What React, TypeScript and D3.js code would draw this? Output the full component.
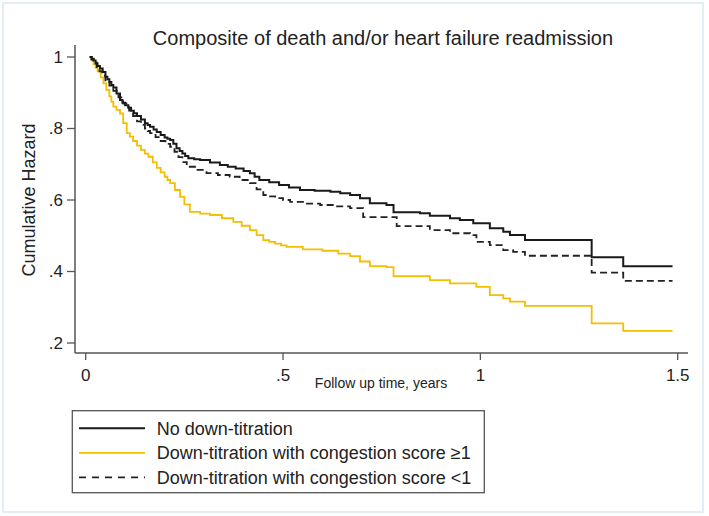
import React from "react";
import * as d3 from "d3";

const title = "Composite of death and/or heart failure readmission";
const yLabel = "Cumulative Hazard";
const xLabel = "Follow up time, years";
const xTicks = [0, 0.5, 1, 1.5];
const xTickLabels = ["0", ".5", "1", "1.5"];
const yTicks = [0.2, 0.4, 0.6, 0.8, 1];
const yTickLabels = [".2", ".4", ".6", ".8", "1"];
const seriesNames = [
  "No down-titration",
  "Down-titration with congestion score \u22651",
  "Down-titration with congestion score <1",
];
const endTime = 1.487;

const noDownT = [0.01,0.015,0.02,0.025,0.03,0.036,0.043,0.05,0.055,0.06,0.065,0.07,0.078,0.087,0.093,0.1,0.108,0.115,0.122,0.13,0.14,0.15,0.157,0.163,0.172,0.18,0.19,0.2,0.207,0.214,0.222,0.23,0.238,0.245,0.252,0.26,0.275,0.29,0.315,0.34,0.36,0.38,0.4,0.416,0.428,0.44,0.465,0.49,0.515,0.543,0.58,0.62,0.645,0.67,0.695,0.72,0.762,0.78,0.847,0.872,0.923,0.948,0.982,1.024,1.058,1.075,1.113,1.282,1.362];
const noDownV = [1.0,0.995,0.99,0.982,0.975,0.968,0.958,0.945,0.938,0.93,0.922,0.915,0.898,0.88,0.872,0.865,0.858,0.85,0.843,0.835,0.825,0.815,0.81,0.805,0.797,0.79,0.782,0.775,0.771,0.768,0.757,0.745,0.737,0.73,0.723,0.717,0.714,0.712,0.705,0.698,0.693,0.688,0.681,0.675,0.665,0.656,0.65,0.642,0.635,0.628,0.626,0.623,0.619,0.614,0.605,0.591,0.586,0.566,0.563,0.556,0.549,0.544,0.535,0.521,0.511,0.502,0.488,0.44,0.415];

const congHighT = [0.01,0.015,0.02,0.025,0.03,0.038,0.045,0.052,0.06,0.065,0.07,0.078,0.087,0.095,0.104,0.112,0.12,0.13,0.14,0.15,0.159,0.17,0.18,0.19,0.2,0.207,0.214,0.226,0.239,0.25,0.264,0.29,0.315,0.345,0.374,0.395,0.416,0.433,0.45,0.465,0.48,0.495,0.509,0.55,0.6,0.64,0.67,0.695,0.72,0.762,0.78,0.872,0.923,0.99,1.024,1.058,1.075,1.113,1.282,1.362];
const congHighV = [1.0,0.99,0.98,0.97,0.96,0.943,0.926,0.908,0.89,0.875,0.861,0.852,0.842,0.815,0.787,0.777,0.765,0.752,0.74,0.73,0.721,0.705,0.69,0.677,0.665,0.656,0.647,0.628,0.609,0.588,0.567,0.562,0.558,0.549,0.539,0.528,0.516,0.502,0.488,0.483,0.478,0.473,0.469,0.462,0.458,0.45,0.443,0.428,0.415,0.412,0.387,0.376,0.367,0.357,0.334,0.325,0.316,0.304,0.255,0.234];

const congLowT = [0.01,0.015,0.02,0.028,0.035,0.042,0.05,0.06,0.07,0.083,0.095,0.103,0.11,0.12,0.13,0.14,0.15,0.157,0.163,0.177,0.19,0.202,0.214,0.225,0.235,0.245,0.256,0.28,0.306,0.335,0.365,0.39,0.416,0.433,0.45,0.465,0.48,0.5,0.518,0.555,0.594,0.63,0.67,0.703,0.788,0.872,0.923,0.974,0.99,1.024,1.058,1.083,1.113,1.282,1.362];
const congLowV = [1.0,0.993,0.985,0.972,0.96,0.948,0.935,0.92,0.905,0.887,0.87,0.86,0.85,0.835,0.82,0.81,0.8,0.793,0.787,0.776,0.765,0.757,0.749,0.735,0.72,0.706,0.693,0.684,0.675,0.67,0.665,0.656,0.647,0.63,0.614,0.61,0.605,0.6,0.595,0.59,0.586,0.582,0.577,0.552,0.527,0.516,0.507,0.502,0.483,0.474,0.46,0.455,0.444,0.397,0.374];

const W = 709;
const H = 516;

export default function App() {
  const x = d3.scaleLinear().domain([0, 1.5]).range([85.7, 677.7]);
  const y = d3.scaleLinear().domain([0.2, 1]).range([343, 57]);

  const toPts = (t: number[], v: number[]) => {
    const pts: [number, number][] = t.map((ti, i) => [ti, v[i]]);
    pts.push([endTime, v[v.length - 1]]);
    return pts;
  };
  const line = d3
    .line<[number, number]>()
    .x((d) => x(d[0]))
    .y((d) => y(d[1]))
    .curve(d3.curveStepAfter);

  const series = [
    { name: seriesNames[0], pts: toPts(noDownT, noDownV), color: "#1a1a1a", width: 2, dash: undefined as string | undefined },
    { name: seriesNames[1], pts: toPts(congHighT, congHighV), color: "#f5be00", width: 1.8, dash: undefined },
    { name: seriesNames[2], pts: toPts(congLowT, congLowV), color: "#222", width: 1.8, dash: "7,4" },
  ];
  const drawOrder = [1, 2, 0];

  const font = "Arial, 'Liberation Sans', Helvetica, sans-serif";
  const axisColor = "#555";

  return (
    <svg
      width={W}
      height={H}
      style={{ position: "absolute", left: 0, top: 0 }}
      fontFamily={font}
    >
      <rect x={0} y={0} width={W} height={H} fill="#fff" />
      <rect x={3} y={3} width={700} height={509} fill="#fff" stroke="#e2eef1" strokeWidth={2} />
      <text x={383} y={38} dy="0.35em" textAnchor="middle" fontSize={20} fill="#222">
        {title}
      </text>
      {/* axes */}
      <line x1={75} x2={75} y1={45} y2={353} stroke={axisColor} strokeWidth={1.5} />
      <line x1={75} x2={688} y1={353} y2={353} stroke={axisColor} strokeWidth={1.5} />
      {yTicks.map((t, i) => (
        <g key={"y" + i}>
          <line x1={67} x2={75} y1={y(t)} y2={y(t)} stroke={axisColor} strokeWidth={1.3} />
          <text x={63} y={y(t)} dy="0.35em" textAnchor="end" fontSize={17} fill="#222">
            {yTickLabels[i]}
          </text>
        </g>
      ))}
      {xTicks.map((t, i) => (
        <g key={"x" + i}>
          <line x1={x(t)} x2={x(t)} y1={353} y2={360} stroke={axisColor} strokeWidth={1.3} />
          <text x={x(t)} y={375} dy="0.35em" textAnchor="middle" fontSize={17} fill="#222">
            {xTickLabels[i]}
          </text>
        </g>
      ))}
      <text
        transform={`translate(29,200) rotate(-90)`}
        textAnchor="middle"
        dy="0.35em"
        fontSize={18}
        fill="#222"
      >
        {yLabel}
      </text>
      <text x={381} y={383} dy="0.35em" textAnchor="middle" fontSize={14} fill="#222">
        {xLabel}
      </text>
      {/* curves */}
      {drawOrder.map((i) => (
        <path
          key={"s" + i}
          d={line(series[i].pts) || ""}
          fill="none"
          stroke={series[i].color}
          strokeWidth={series[i].width}
          strokeDasharray={series[i].dash}
        />
      ))}
      {/* legend */}
      <rect x={72.3} y={410.7} width={412} height={82} fill="#fff" stroke="#555" strokeWidth={1.3} />
      {series.map((s, i) => {
        const ly = 428.3 + i * 24.5;
        return (
          <g key={"l" + i}>
            <line
              x1={79}
              x2={145}
              y1={ly}
              y2={ly}
              stroke={s.color}
              strokeWidth={s.width}
              strokeDasharray={s.dash ? "7,6" : undefined}
            />
            <text x={156.7} y={ly} dy="0.35em" fontSize={18} fill="#222">
              {s.name}
            </text>
          </g>
        );
      })}
    </svg>
  );
}
